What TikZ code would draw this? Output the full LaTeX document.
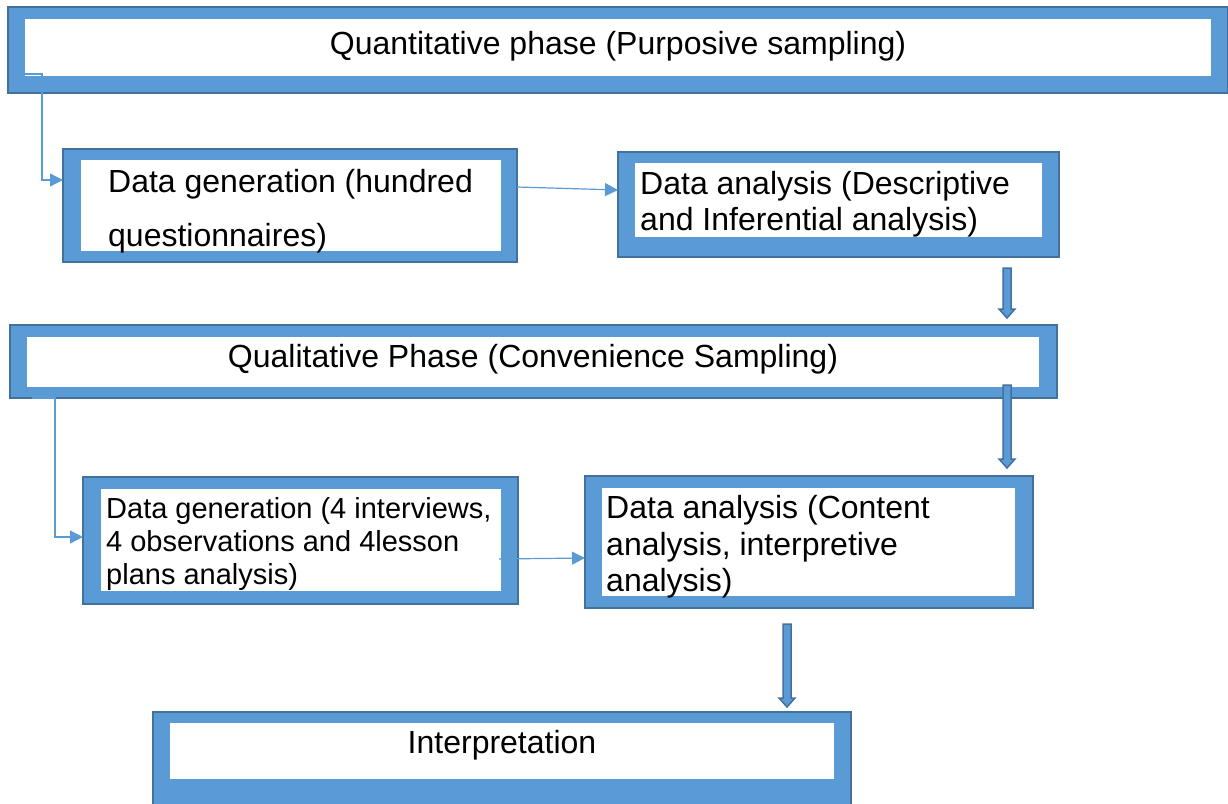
\documentclass[tikz,border=0pt]{standalone}
\usepackage{fontspec}
\setmainfont{Liberation Sans}
\usetikzlibrary{arrows.meta,calc}
\definecolor{boxfill}{HTML}{5B9BD5}
\definecolor{boxline}{HTML}{41719C}
\tikzset{
  bluebox/.style={rectangle, draw=boxline, fill=boxfill, line width=2pt,
    inner sep=0pt, outer sep=0pt, anchor=north west},
  whitebox/.style={rectangle, fill=white, inner sep=0pt, outer sep=0pt, anchor=north west},
  txt/.style={inner sep=0pt, anchor=base west, font=\fontsize{32}{36}\selectfont},
  txtc/.style={txt, anchor=base},
  smalltxt/.style={txt, font=\fontsize{29}{33}\selectfont},
  conn/.style={draw=boxfill, line width=1.2pt,
    -{Triangle[length=13pt,width=13pt]}},
  blockarrow/.style={fill=boxfill, draw=boxline, line width=1.5pt, line join=miter}
}
% vertical block arrow: x centre, top y, tip y
\newcommand\vblkarrow[3]{%
  \path[blockarrow] (#1-4,#2) -- (#1+4,#2) -- (#1+4,#3-9) -- (#1+8,#3-9)
    -- (#1,#3) -- (#1-8,#3-9) -- (#1-4,#3-9) -- cycle;}
\begin{document}
\begin{tikzpicture}[x=1pt,y=-1pt]
\useasboundingbox (0,0) rectangle (1228,803);

% quantitative strand
\node[bluebox, minimum width=1220, minimum height=86] (quan) at (8,7) {};
\node[whitebox, minimum width=1186, minimum height=57] (quanin) at (25,19) {};
\node[txtc] (quantxt) at (618,54) {Quantitative phase (Purposive sampling)};

\node[bluebox, minimum width=454, minimum height=113] (gen1) at (63,149) {};
\node[whitebox, minimum width=420, minimum height=91] (gen1in) at (81,160) {};
\node[txt] (gen1a) at (108,192) {Data generation (hundred};
\node[txt] (gen1b) at (108,246) {questionnaires)};

\node[bluebox, minimum width=441, minimum height=105] (ana1) at (618,152) {};
\node[whitebox, minimum width=407, minimum height=74] (ana1in) at (635,163) {};
\node[txt] (ana1a) at (640,194) {Data analysis (Descriptive};
\node[txt] (ana1b) at (640,230) {and Inferential analysis)};

% qualitative strand
\node[bluebox, minimum width=1047, minimum height=73] (qual) at (10,325) {};
\node[whitebox, minimum width=1012, minimum height=50] (qualin) at (27,337) {};
\node[txtc] (qualtxt) at (533,367) {Qualitative Phase (Convenience Sampling)};

\node[bluebox, minimum width=435, minimum height=127] (gen2) at (83,477) {};
\node[whitebox, minimum width=400, minimum height=102] (gen2in) at (101,489) {};
\node[smalltxt] (gen2a) at (106,518) {Data generation (4 interviews,};
\node[smalltxt] (gen2b) at (106,551) {4 observations and 4lesson};
\node[smalltxt] (gen2c) at (106,584) {plans analysis)};

\node[bluebox, minimum width=448, minimum height=132] (ana2) at (585,476) {};
\node[whitebox, minimum width=413, minimum height=108] (ana2in) at (602,488) {};
\node[txt] (ana2a) at (606,518) {Data analysis (Content};
\node[txt] (ana2b) at (606,555) {analysis, interpretive};
\node[txt] (ana2c) at (606,591) {analysis)};

% interpretation
\node[bluebox, minimum width=698, minimum height=110] (interp) at (153,712) {};
\node[whitebox, minimum width=664, minimum height=56] (interpin) at (170,723) {};
\node[txtc] (interptxt) at (502,753) {Interpretation};

% thin elbow and straight connectors
\coordinate (q1start) at ([yshift=-55pt]quanin.north west);
\draw[conn] (q1start) -- ++(17,0) |- ([yshift=-31pt]gen1.north west);
\draw[conn] ([yshift=-38pt]gen1.north east) -- ([yshift=-38pt]ana1.north west);
\coordinate (q2start) at ([xshift=22pt]qual.south west);
\draw[conn] (q2start) -- ++(23,0) |- ([yshift=-60pt]gen2.north west);
\draw[conn] ([xshift=-2pt,yshift=-70pt]gen2in.north east) -- ([yshift=-82pt]ana2.north west);

% block arrows
\vblkarrow{1007}{268}{318}
\vblkarrow{1007}{385}{468}
\vblkarrow{787}{624}{707}
\end{tikzpicture}
\end{document}
